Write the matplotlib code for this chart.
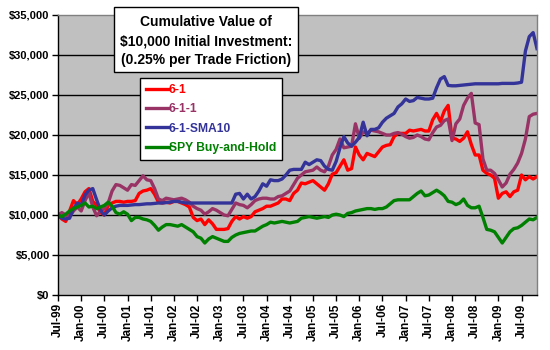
import matplotlib
matplotlib.use("Agg")
import matplotlib.pyplot as plt
import matplotlib.patches as patches
import numpy as np
import pandas as pd

plt.rcParams['font.family'] = ['Liberation Sans', 'DejaVu Sans']
plt.rcParams['font.weight'] = 'bold'

months = pd.date_range('1999-07-01', '2009-11-01', freq='MS')

s61 = [10000, 9500, 9200, 10500, 11800, 11300, 12000, 12900, 13300, 11700,
       11200, 10300, 10000, 11200, 11500, 11700, 11700, 11600, 11700, 11700,
       11800, 12700, 13000, 13100, 13300, 12600, 11600, 11500, 11600, 11500,
       11700, 11700, 11500, 11300, 11000, 9700, 9300, 9500, 8800, 9400,
       8900, 8200, 8200, 8200, 8300, 9200, 9800, 9500, 9800, 9600,
       9800, 10400, 10600, 10800, 11100, 11100, 11300, 11500, 12000, 12000,
       11800, 12700, 13100, 14000, 13900, 14100, 14300, 13900, 13500, 13100,
       13900, 15100, 15300, 16100, 16900, 15600, 15800, 18500, 17500, 16900,
       17700, 17500, 17300, 17900, 18500, 18700, 18800, 19800, 20200, 20200,
       20200, 20600, 20500, 20600, 20700, 20500, 20500, 21900, 22700, 21700,
       23000, 23700, 19600, 19500, 19200, 19600, 20400, 18800, 17500, 17500,
       15600, 15200, 15000, 14600, 12100, 12700, 12900, 12300, 12900, 13100,
       15000, 14400, 14800, 14500, 14800]

s611 = [10000, 10300, 10000, 9800, 10500, 11000, 10500, 11800, 12800, 11000,
        9900, 10500, 10800, 11500, 13000, 13800, 13700, 13400, 13100, 13800,
        13700, 14300, 14900, 14400, 14300, 13300, 12000, 11800, 12100, 12000,
        11900, 12000, 12100, 11900, 11600, 11100, 10800, 10600, 10100, 10400,
        10800, 10600, 10300, 10000, 9900, 10700, 11500, 11300, 11200, 10900,
        11300, 11800, 12000, 12100, 12100, 12000, 12000, 12300, 12400, 12700,
        13000, 13800, 14600, 15000, 15400, 15500, 15600, 16000, 15600, 15400,
        16100, 17500, 18200, 19500, 18400, 18500, 18600, 21400, 19600, 20400,
        20200, 20600, 20500, 20400, 20200, 20000, 20000, 20200, 20300, 20100,
        19800, 19600, 19700, 20000, 19800, 19500, 19400, 20300, 21000, 21200,
        21800, 22000, 19300, 21400, 22000, 23700, 24600, 25200, 21500, 21300,
        17000, 15600, 15600, 15200, 14400, 13500, 14000, 15100, 15700, 16500,
        17700, 19500, 22300, 22600, 22700]

s61sma = [10000, 9600, 9500, 9600, 10800, 11500, 11200, 12500, 13100, 13300,
          11900, 10600, 10000, 10500, 10900, 11100, 11200, 11200, 11200, 11250,
          11300, 11300, 11350, 11400, 11400, 11450, 11500, 11500, 11550, 11600,
          11700, 11700, 11600, 11500, 11500, 11500, 11500, 11500, 11500, 11500,
          11500, 11500, 11500, 11500, 11500, 11500, 12600, 12700, 12000, 12600,
          12000, 12300, 13000, 13900, 13600, 14400, 14300, 14300, 14500, 15000,
          15600, 15700, 15700, 15700, 16600, 16300, 16600, 16900, 16800, 16100,
          15700, 15600, 16700, 18400, 19800, 19000, 18600, 19100, 19700, 21600,
          19900, 20700, 20700, 20900, 21600, 22100, 22400, 22700, 23500, 23900,
          24500, 24200, 24300, 24700, 24600, 24500, 24500, 24600, 25900, 27000,
          27300, 26200, 26150, 26150, 26200, 26250, 26300, 26350, 26400, 26400,
          26400, 26400, 26400, 26400, 26400, 26450, 26450, 26450, 26450, 26500,
          26600, 30500, 32300, 32800, 30800]

spy = [10000, 9800, 10100, 10500, 10800, 11000, 11200, 11500, 11000, 11100,
       10800, 11000, 11200, 11600, 11100, 10300, 10100, 10400, 10100, 9300,
       9700, 9700, 9500, 9400, 9200, 8700, 8100, 8500, 8800, 8800,
       8700, 8600, 8800, 8500, 8200, 7900, 7300, 7100, 6500, 7000,
       7300, 7100, 6900, 6700, 6700, 7200, 7500, 7700, 7800, 7900,
       8000, 8000, 8300, 8600, 8800, 9100, 9000, 9100, 9200, 9100,
       9000, 9100, 9200, 9600, 9700, 9800, 9700, 9600, 9700, 9800,
       9700, 10000, 10100, 10000, 9800, 10200, 10300, 10500, 10600, 10700,
       10800, 10800, 10700, 10800, 10800, 11000, 11400, 11800, 11900, 11900,
       11900, 11900, 12300, 12700, 13000, 12400, 12500, 12800, 13100, 12800,
       12400, 11700, 11600, 11300, 11500, 12000, 11200, 10900, 10900, 11100,
       9700, 8200, 8100, 7900, 7200, 6500, 7200, 7900, 8300, 8400,
       8700, 9100, 9500, 9400, 9700]

series_names = ['6-1', '6-1-1', '6-1-SMA10', 'SPY Buy-and-Hold']
series_colors = ['#FF0000', '#993366', '#333399', '#008000']
title_lines = ['Cumulative Value of', '$10,000 Initial Investment:',
               '(0.25% per Trade Friction)']

W, H = 550, 350
fig = plt.figure(figsize=(W / 100, H / 100), dpi=100)
fig.patch.set_facecolor('white')
L, R, T, B = 58, 537, 15, 295
ax = fig.add_axes([L / W, 1 - B / H, (R - L) / W, (B - T) / H])
ax.set_facecolor('#C0C0C0')

x = np.arange(len(months))
for vals, name, col in zip([s61, s611, s61sma, spy], series_names, series_colors):
    ax.plot(x, vals, color=col, lw=2.4, label=name, solid_joinstyle='round')

ax.set_xlim(0, len(months) - 1)
ax.set_ylim(0, 35000)
yt = np.arange(0, 35001, 5000)
ax.set_yticks(yt)
ax.set_yticklabels(['${:,.0f}'.format(v) for v in yt], fontsize=8, fontweight='bold')
for v in yt[1:-1]:
    ax.axhline(v, color='black', lw=1.0, zorder=1)

xt = np.arange(0, len(months), 6)
ax.set_xticks(xt)
ax.set_xticklabels([months[i].strftime('%b-%y') for i in xt], rotation=90,
                   fontsize=8.5, fontweight='bold')
ax.tick_params(axis='both', direction='out', length=4, width=1, color='black', pad=2)

for side in ['top', 'right']:
    ax.spines[side].set_color('#808080')
    ax.spines[side].set_linewidth(1)
for side in ['left', 'bottom']:
    ax.spines[side].set_color('black')
    ax.spines[side].set_linewidth(1)

# Title box
bx0, bx1, by0, by1 = 114, 298, 7, 72
fig.patches.append(patches.Rectangle((bx0 / W, 1 - by1 / H), (bx1 - bx0) / W, (by1 - by0) / H,
                                     transform=fig.transFigure, facecolor='white',
                                     edgecolor='black', lw=1, zorder=5))
for yc, line in zip([21.7, 41, 60], title_lines):
    fig.text((bx0 + bx1) / 2 / W, 1 - yc / H, line, ha='center', va='center',
             fontsize=10, fontweight='bold', zorder=6)

leg = ax.legend(loc='upper left', bbox_to_anchor=(140 / W, 1 - 78 / H),
                bbox_transform=fig.transFigure, fontsize=8.7, frameon=True,
                fancybox=False, edgecolor='black', framealpha=1,
                handlelength=1.9, handletextpad=0.0, borderpad=0.5,
                labelspacing=0.6, borderaxespad=0, labelcolor='linecolor')
leg.get_frame().set_linewidth(1)
for t in leg.get_texts():
    t.set_fontweight('bold')
leg.set_zorder(7)

fig.savefig('out.png', dpi=100)
